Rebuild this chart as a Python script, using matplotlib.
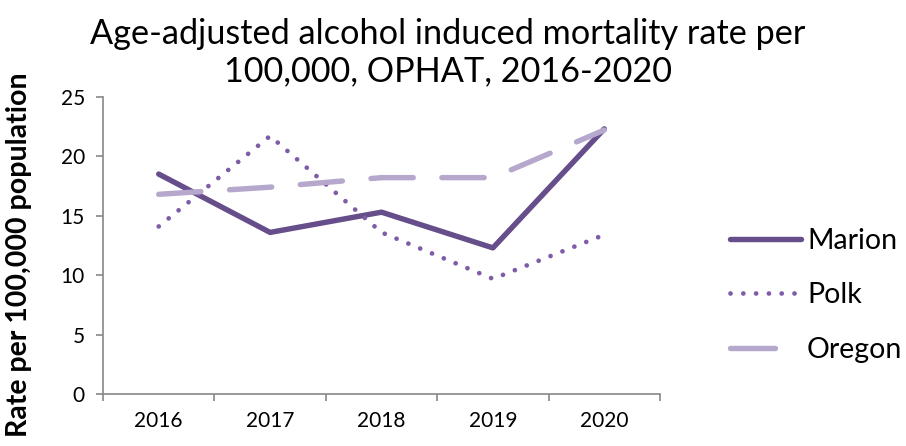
import matplotlib.pyplot as plt
from matplotlib.lines import Line2D
import numpy as np

years = ["2016", "2017", "2018", "2019", "2020"]
marion = [18.5, 13.6, 15.3, 12.3, 22.3]
polk = [14.1, 21.7, 13.6, 9.7, 13.4]
oregon = [16.8, 17.4, 18.2, 18.2, 22.2]

plt.rcParams['font.family'] = ['Lato', 'DejaVu Sans']

fig = plt.figure(figsize=(9.06, 4.46), dpi=100)
ax = fig.add_axes([0.1137, 0.1159, 0.6148, 0.6673])

c_marion, c_polk, c_oregon = "#654e8a", "#7e5ca8", "#b5a8cc"

x = np.arange(1, len(years) + 1)
ax.plot(x, marion, color=c_marion, lw=3.9, solid_capstyle="round")
ax.plot(x, polk, color=c_polk, lw=3.4, linestyle=(0, (0.01, 2.7)), dash_capstyle="round")
ax.plot(x, oregon, color=c_oregon, lw=3.9, linestyle=(0, (7.8, 5.3)), dash_capstyle="round")

ax.set_xlim(0.5, 5.5)
ax.set_ylim(0, 25)
ax.set_yticks([0, 5, 10, 15, 20, 25])
ax.set_xticks(x)
ax.set_xticklabels(years)
ax.set_xticks(np.arange(0.5, 5.6, 1), minor=True)
ax.tick_params(axis="x", which="major", length=0, pad=12, labelsize=15)
ax.tick_params(axis="x", which="minor", length=5, width=1.2, color="#888888")
ax.tick_params(axis="y", length=5, width=1.2, color="#888888", labelsize=15, pad=8)

for s in ["top", "right"]:
    ax.spines[s].set_visible(False)
for s in ["left", "bottom"]:
    ax.spines[s].set_color("#888888")
    ax.spines[s].set_linewidth(1.2)

ax.set_ylabel("Rate per 100,000 population", fontsize=20.5, fontweight="bold")
ax.yaxis.set_label_coords(-0.128, 0.47)

fig.text(0.4945, 0.882, "Age-adjusted alcohol induced mortality rate per\n100,000, OPHAT, 2016-2020",
         ha="center", va="center", fontsize=24.7, linespacing=1.22)

# legend handles: oregon gets a long gap so only one dash shows
handles = [
    Line2D([], [], color=c_marion, lw=3.9, solid_capstyle="round"),
    Line2D([], [], color=c_polk, lw=3.4, linestyle=(0, (0.01, 2.7)), dash_capstyle="round"),
    Line2D([], [], color=c_oregon, lw=3.9, linestyle=(0, (8.3, 12)), dash_capstyle="round"),
]
fig.legend(handles, ["Marion", "Polk", "Oregon"], loc="center left",
           bbox_to_anchor=(0.806, 0.338), frameon=False,
           fontsize=20.5, handlelength=2.5, handletextpad=0.2, labelspacing=1.0,
           borderpad=0, borderaxespad=0)

fig.savefig("out.png", dpi=100)
